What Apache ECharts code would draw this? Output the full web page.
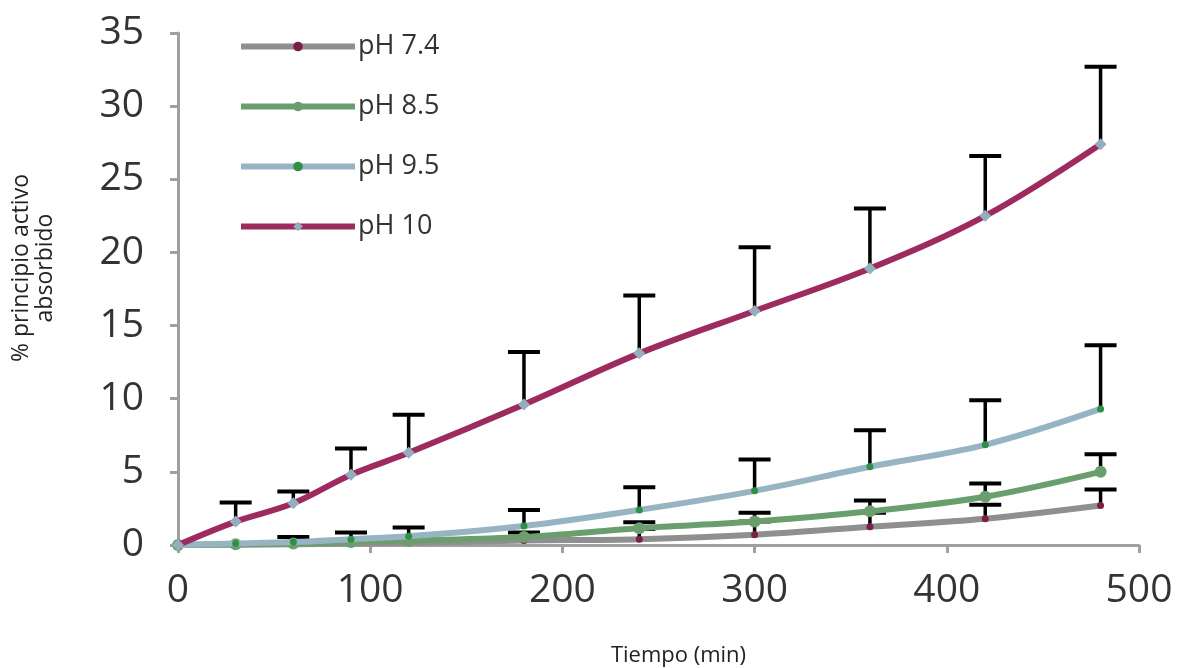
<!DOCTYPE html>
<html>
<head>
    <meta charset="UTF-8">
    <title>Absorción pH</title>
    <script src="https://cdn.jsdelivr.net/npm/echarts@6.0.0/dist/echarts.min.js"></script>
    <style>
        html, body { margin: 0; padding: 0; background: #fff; }
        #main { width: 1178px; height: 668px; }
    </style>
</head>
<body>
<div id="main"></div>
<script type="text/javascript">
    // tiempos de muestreo (min)
    var tiempos = [0, 30, 60, 90, 120, 180, 240, 300, 360, 420, 480];

    // % principio activo absorbido
    var ph74 = [0, 0.02, 0.05, 0.1, 0.15, 0.3, 0.4, 0.7, 1.25, 1.8, 2.7];
    var ph85 = [0, 0.05, 0.1, 0.2, 0.3, 0.55, 1.15, 1.6, 2.3, 3.3, 5.0];
    var ph95 = [0, 0.1, 0.2, 0.4, 0.6, 1.3, 2.4, 3.7, 5.35, 6.85, 9.3];
    var ph10 = [0, 1.6, 2.85, 4.8, 6.3, 9.6, 13.1, 16.0, 18.9, 22.5, 27.4];

    // desviacion (solo barra superior)
    var sd74 = [0, 0, 0, 0, 0.05, 0.1, 0.7, 0.9, 0.95, 0.95, 1.1];
    var sd85 = [0, 0, 0, 0, 0.05, 0.3, 0.4, 0.6, 0.75, 0.9, 1.2];
    var sd95 = [0, 0, 0.35, 0.45, 0.6, 1.1, 1.55, 2.15, 2.5, 3.05, 4.35];
    var sd10 = [0, 1.3, 0.8, 1.8, 2.6, 3.6, 3.95, 4.35, 4.1, 4.1, 5.3];

    var nombres = ['pH 7.4', 'pH 8.5', 'pH 9.5', 'pH 10'];

    function pares(vals) {
        return tiempos.map(function (t, i) { return [t, vals[i]]; });
    }
    function errores(vals, sd) {
        var out = [];
        for (var i = 0; i < tiempos.length; i++) {
            if (sd[i] > 0) out.push([tiempos[i], vals[i], vals[i] + sd[i]]);
        }
        return out;
    }

    function barraError(params, api) {
        var p0 = api.coord([api.value(0), api.value(1)]);
        var p1 = api.coord([api.value(0), api.value(2)]);
        var half = 16;
        return {
            type: 'group',
            children: [
                {type: 'line', shape: {x1: p0[0], y1: p0[1], x2: p1[0], y2: p1[1]},
                    style: {stroke: '#000', lineWidth: 3.5}},
                {type: 'line', shape: {x1: p1[0] - half, y1: p1[1], x2: p1[0] + half, y2: p1[1]},
                    style: {stroke: '#000', lineWidth: 4}}
            ]
        };
    }

    function serieError(vals, sd) {
        return {
            type: 'custom',
            renderItem: barraError,
            data: errores(vals, sd),
            encode: {x: 0, y: [1, 2]},
            z: 1,
            silent: true
        };
    }

    var myChart = echarts.init(document.getElementById('main'));

    var fuente = '"Open Sans", "DejaVu Sans", sans-serif';

    var option = {
        backgroundColor: '#fff',
        animation: false,
        textStyle: {fontFamily: fuente},
        grid: {left: 178, right: 39, top: 33, bottom: 123, outerBoundsMode: 'none'},
        legend: {
            data: nombres,
            orient: 'vertical',
            left: 238,
            top: 33,
            padding: 0,
            itemWidth: 114,
            itemHeight: 12,
            itemGap: 33,
            lineStyle: {width: 'inherit'},
            textStyle: {fontSize: 27, color: '#333', fontFamily: fuente, padding: [0, 0, 0, -2]}
        },
        xAxis: {
            type: 'value',
            min: 0,
            max: 500,
            interval: 100,
            name: 'Tiempo (min)',
            nameLocation: 'middle',
            nameGap: 100,
            nameTextStyle: {fontSize: 22, color: '#222', fontFamily: fuente, padding: [0, 0, 0, 40]},
            splitLine: {show: false},
            axisLine: {lineStyle: {color: '#a0a0a0', width: 3}},
            axisTick: {length: 8, lineStyle: {color: '#a0a0a0', width: 3}},
            axisLabel: {fontSize: 39, color: '#333', margin: 26, fontFamily: fuente}
        },
        yAxis: {
            type: 'value',
            min: 0,
            max: 35,
            interval: 5,
            name: '% principio activo\nabsorbido',
            nameLocation: 'middle',
            nameRotate: 90,
            nameGap: 121,
            nameTextStyle: {fontSize: 23, color: '#222', lineHeight: 24, fontFamily: fuente, padding: [0, 0, 0, 42]},
            splitLine: {show: false},
            axisLine: {show: true, lineStyle: {color: '#a0a0a0', width: 3}},
            axisTick: {show: true, length: 8, lineStyle: {color: '#a0a0a0', width: 3}},
            axisLabel: {fontSize: 39, color: '#333', margin: 34, fontFamily: fuente}
        },
        series: [
            serieError(ph74, sd74),
            serieError(ph85, sd85),
            serieError(ph95, sd95),
            serieError(ph10, sd10),
            {
                name: 'pH 7.4', type: 'line', data: pares(ph74), smooth: 0.35, z: 2,
                lineStyle: {color: '#8f8f8f', width: 6},
                symbol: 'circle', symbolSize: 7,
                itemStyle: {color: '#7a2048'}
            },
            {
                name: 'pH 8.5', type: 'line', data: pares(ph85), smooth: 0.35, z: 3,
                lineStyle: {color: '#6b9e6d', width: 6},
                symbol: 'circle', symbolSize: 12,
                itemStyle: {color: '#6b9e6d'}
            },
            {
                name: 'pH 9.5', type: 'line', data: pares(ph95), smooth: 0.35, z: 4,
                lineStyle: {color: '#97b4c2', width: 6},
                symbol: 'circle', symbolSize: 7,
                itemStyle: {color: '#2f8f46'}
            },
            {
                name: 'pH 10', type: 'line', data: pares(ph10), smooth: 0.35, z: 5,
                lineStyle: {color: '#9e2b5f', width: 6},
                symbol: 'diamond', symbolSize: 12,
                itemStyle: {color: '#93aebc'}
            }
        ]
    };
    myChart.setOption(option);
</script>
</body>
</html>
